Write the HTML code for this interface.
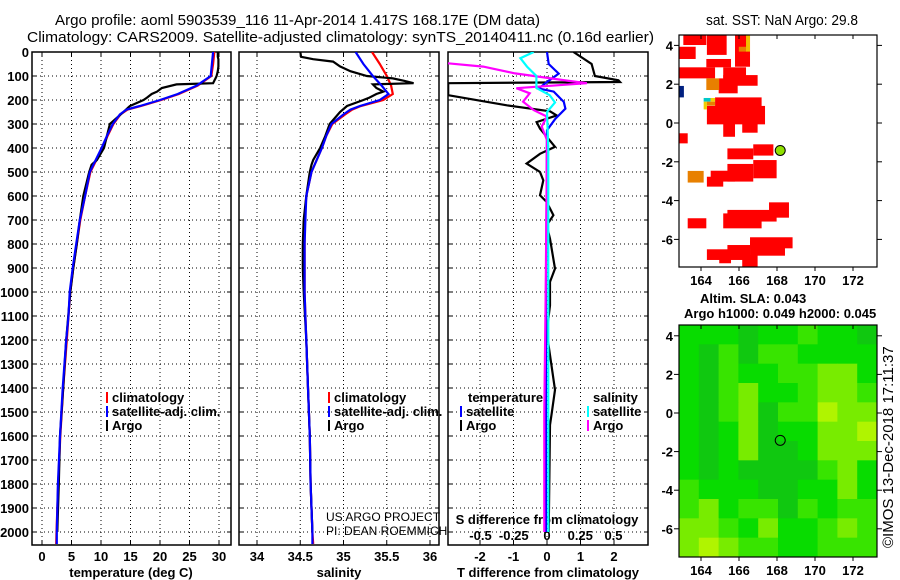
<!DOCTYPE html>
<html><head><meta charset="utf-8"><style>
html,body{margin:0;padding:0;background:#fff;}
svg{display:block;font-family:"Liberation Sans",sans-serif;}
.t{font-size:13px;font-weight:bold;fill:#000;}
.ttl{font-size:15px;fill:#000;}
</style></head><body>
<svg id="chart" width="900" height="580" viewBox="0 0 900 580" xmlns="http://www.w3.org/2000/svg">
<defs>
<clipPath id="c1"><rect x="32" y="52" width="199" height="493"/></clipPath>
<clipPath id="c2"><rect x="239" y="52" width="200" height="493"/></clipPath>
<clipPath id="c3"><rect x="448" y="52" width="200" height="493"/></clipPath>
<clipPath id="cm1"><rect x="679" y="35" width="198" height="232"/></clipPath>
<clipPath id="cm2"><rect x="679" y="325" width="198" height="232"/></clipPath>
</defs>
<text class="ttl" x="55" y="25" textLength="485" lengthAdjust="spacingAndGlyphs">Argo profile: aoml 5903539_116 11-Apr-2014 1.417S 168.17E (DM data)</text>
<text class="ttl" x="27" y="42" textLength="627" lengthAdjust="spacingAndGlyphs">Climatology: CARS2009. Satellite-adjusted climatology: synTS_20140411.nc (0.16d earlier)</text>
<text class="ttl" x="706" y="25" textLength="152" lengthAdjust="spacingAndGlyphs">sat. SST: NaN Argo: 29.8</text>
<text class="t" x="700" y="303">Altim. SLA: 0.043</text>
<text class="t" x="684" y="318">Argo h1000: 0.049 h2000: 0.045</text>
<text class="ttl" transform="translate(893,548) rotate(-90)" font-size="13">©IMOS 13-Dec-2018 17:11:37</text>
<g id="g"></g>
</svg>
<script>
// ---------- data ----------
const depthTicks=[0,100,200,300,400,500,600,700,800,900,1000,1100,1200,1300,1400,1500,1600,1700,1800,1900,2000];
const tempTicks=[0,5,10,15,20,25,30];
const salTicks=[34,34.5,35,35.5,36];
const tdiffTicks=[-2,-1,0,1,2];
const sdiffTicks=[-0.5,-0.25,0,0.25,0.5];
const sdiffLabels=["-0.5","-0.25","0","0.25","0.5"];
const latTicks=[-6,-4,-2,0,2,4];
const lonTicks=[164,166,168,170,172];

const climDepth=[0,50,100,140,175,200,225,240,260,300,350,400,500,600,700,800,900,1000,1100,1200,1400,1600,1800,2000,2050];
const tempClim=[29.2,29.0,28.7,26.4,23.2,20.2,16.8,14.5,13.3,12.1,11.1,10.2,8.2,7.3,6.5,5.9,5.3,4.8,4.5,4.2,3.6,3.1,2.75,2.45,2.4];
const tempSat=[29.0,28.8,28.6,26.2,23.0,20.0,16.6,14.3,13.2,12.0,11.0,10.1,8.1,7.3,6.4,5.8,5.2,4.7,4.5,4.1,3.5,3.05,2.7,2.5,2.5];
const salClim=[35.33,35.42,35.50,35.55,35.57,35.46,35.20,35.10,35.02,34.87,34.80,34.75,34.63,34.57,34.55,34.55,34.55,34.55,34.56,34.57,34.59,34.61,34.62,34.64,34.65];
const salSat=[35.14,35.23,35.34,35.44,35.52,35.42,35.19,35.08,35.00,34.86,34.80,34.75,34.63,34.57,34.56,34.55,34.55,34.55,34.56,34.57,34.59,34.61,34.62,34.64,34.64];

const argoDepth=[0,20,30,40,60,80,100,110,120,130,135,150,165,175,190,200,225,250,300,350,400,450,470,500,600,700,800,900,1000,1200,1400,1600,1800,2000];
const tempArgo=[29.8,29.8,29.9,29.9,29.9,29.8,29.6,29.4,29.2,29.0,22.8,20.3,19.5,18.6,17.8,17.2,14.9,13.8,11.5,11.0,10.5,9.3,8.4,8.0,7.0,6.4,5.9,5.3,4.8,4.1,3.6,3.05,2.85,2.6];
const salArgo=[34.50,34.51,34.65,34.88,34.96,35.08,35.27,35.57,35.70,35.81,35.34,35.38,35.46,35.38,35.30,35.23,35.04,34.96,34.84,34.79,34.73,34.65,34.63,34.61,34.57,34.54,34.53,34.53,34.54,34.57,34.59,34.61,34.62,34.64];

const tdDepth=[0,50,100,118,125,130,180,222,247,264,292,319,395,424,465,500,535,597,625,680,722,778,903,958,1056,1167,1408,1506,1554,2000];
const tdArgo=[0.79,1.33,1.43,2.13,2.18,-2.95,-2.95,-1.2,0.09,0.29,-0.31,-0.21,0.24,-0.21,-0.61,-0.21,-0.11,-0.21,-0.01,0.19,-0.01,0.09,0.24,0.09,0.09,-0.01,0.24,0.14,0.09,0.05];
const tsDepth=[0,50,90,120,152,165,208,236,278,326,1000,2000];
const tdSat=[0,0.05,0.35,0.05,-0.25,0.2,0.5,0.55,0.25,0,-0.03,-0.03];
const smDepth=[44,61,89,119,130,151,172,207,242,269,311,367,1000,1500,2000];
const sdArgo=[-0.8,-0.48,-0.24,0.15,0.30,-0.23,-0.13,-0.18,-0.1,0,-0.04,0,-0.01,-0.02,-0.02];
const scDepth=[0,26,61,100,150,180,210,250,400,1000,2000];
const sdSat=[-0.1,-0.2,-0.15,-0.08,-0.08,0.02,0.06,0,0.01,0.01,0.01];

// SST map blocks: [lon0, lat0, lon1, lat1, colour]
const sstBlocks=[
[162.86,3.93,163.72,3.30,"#f00"],[163.07,4.6,164.28,4.02,"#f00"],[164.31,4.6,165.35,3.51,"#f00"],
[165.79,4.6,166.58,2.90,"#f00"],[164.28,3.30,165.58,2.87,"#f00"],[162.86,2.87,164.74,2.30,"#f00"],
[165.17,2.87,166.37,2.30,"#f00"],[165.17,2.47,166.98,1.92,"#f00"],[164.93,2.30,165.93,1.53,"#f00"],
[164.28,2.30,164.96,1.70,"#e88000"],[162.86,1.91,163.1,1.32,"#002080"],
[164.74,1.32,167.19,0.67,"#f00"],[164.31,0.88,167.37,-0.07,"#f00"],[165.17,0,165.79,-0.71,"#f00"],
[166.17,0,166.98,-0.50,"#f00"],[162.86,-0.53,163.3,-1.05,"#f00"],
[165.39,-1.31,166.75,-1.87,"#f00"],[166.75,-1.10,167.81,-1.68,"#f00"],
[166.75,-1.91,167.98,-2.85,"#f00"],[165.39,-2.11,166.75,-3.02,"#f00"],[164.51,-2.46,165.79,-3.02,"#f00"],[164.31,-2.77,165.17,-3.28,"#f00"],
[163.3,-2.47,164.14,-3.07,"#e88000"],
[167.58,-4.09,168.63,-4.88,"#f00"],[165.39,-4.48,167.98,-5.08,"#f00"],[165.17,-4.66,167.19,-5.43,"#f00"],
[163.3,-4.91,164.28,-5.43,"#f00"],
[166.58,-5.89,168.82,-6.46,"#f00"],[166.58,-6.08,168.42,-6.84,"#f00"],[165.39,-6.29,166.58,-7.06,"#f00"],
[164.31,-6.51,165.52,-7.06,"#f00"],[164.96,-6.72,165.58,-7.23,"#f00"],[166.17,-6.80,166.98,-7.5,"#f00"],
[164.14,1.29,164.5,1.10,"#00c8c8"],[164.14,1.10,164.31,0.70,"#f0d000"],[164.5,1.29,164.74,1.10,"#f0d000"],[164.31,1.10,164.74,0.89,"#e88000"],
[165.99,3.93,166.4,3.68,"#e88000"],[166.37,4.6,166.58,3.68,"#f0c000"]
];
const argoLon=168.17, argoLat=-1.417;
// SLA map levels (rows top->bottom, cols west->east)
const slaLevels=[
[1,1,1,0,1,1,2,1,1,0],
[1,0,2,0,2,2,1,1,1,1],
[1,0,2,1,1,2,2,3,3,1],
[1,0,2,3,1,1,2,3,3,2],
[1,0,2,3,0,2,2,4,3,3],
[1,0,1,3,0,1,1,3,3,4],
[1,0,1,3,0,0,1,3,3,3],
[1,0,1,0,0,0,0,2,3,1],
[2,1,1,1,0,0,1,1,3,1],
[2,3,1,2,2,0,2,1,2,2],
[3,3,2,1,3,1,1,2,3,2],
[3,4,3,2,2,1,1,2,2,2]];
const slaColors=["#10c810","#08dc00","#38e400","#78ec00","#b0f400"];

// ---------- drawing ----------
const NS="http://www.w3.org/2000/svg";
const G=document.getElementById('g');
function el(tag,attrs,parent){const e=document.createElementNS(NS,tag);for(const k in attrs)e.setAttribute(k,attrs[k]);(parent||G).appendChild(e);return e;}
const yD=d=>52+d*0.24;
const xT=v=>42+v*5.9;
const xS=v=>257+(v-34)*86.5;
const xTD=v=>547+v*33.5;
const xSD=v=>547+v*133;
const mLon=v=>701+(v-164)*19;
const mLat1=v=>123-v*19.4;
const mLat2=v=>413-v*19.3;

function panel(x0,x1,name){
  const r=el('rect',{x:x0,y:52,width:x1-x0,height:493,fill:'none',stroke:'#000','stroke-width':1.5});
  
  
  depthTicks.forEach(d=>{
    const l=el('line',{x1:x0,x2:x1,y1:yD(d),y2:yD(d),stroke:'#000','stroke-dasharray':'1,3'});
    
    
    el('line',{x1:x0,x2:x0+4,y1:yD(d),y2:yD(d),stroke:'#000'});
    el('line',{x1:x1-4,x2:x1,y1:yD(d),y2:yD(d),stroke:'#000'});
  });
}
function vgrid(ticks,fx,x0,x1){ticks.forEach(t=>{const x=fx(t);
  const l=el('line',{x1:x,x2:x,y1:52,y2:545,stroke:'#000','stroke-dasharray':'1,3'});
  
  
  el('line',{x1:x,x2:x,y1:545,y2:541,stroke:'#000'});el('line',{x1:x,x2:x,y1:52,y2:56,stroke:'#000'});});}
function line(xs,ds,fx,color,clip,name){
  let p='';xs.forEach((v,i)=>{p+=(i?'L':'M')+fx(v).toFixed(1)+','+yD(ds[i]).toFixed(1);});
  const e=el('path',{d:p,fill:'none',stroke:color,'stroke-width':2.2,'clip-path':'url(#'+clip+')'});
  
  
}
function txt(x,y,s,anchor,cls,name){const t=el('text',{x:x,y:y,'text-anchor':anchor||'start',class:cls||'t'});t.textContent=s;
  
  return t;}

panel(32,231,'temperature-panel');panel(239,439,'salinity-panel');panel(448,648,'difference-panel');
vgrid(tempTicks,xT);vgrid(salTicks,xS);vgrid(tdiffTicks,xTD);
depthTicks.forEach(d=>txt(29,yD(d)+5,String(d),'end','t','depth-tick-label'));
tempTicks.forEach(v=>txt(xT(v),561,String(v),'middle','t','temperature-tick-label'));
salTicks.forEach(v=>txt(xS(v),561,String(v),'middle','t','salinity-tick-label'));
tdiffTicks.forEach(v=>txt(xTD(v),561,String(v),'middle','t','t-diff-tick-label'));
sdiffTicks.forEach((v,i)=>txt(xSD(v),540,sdiffLabels[i],'middle','t','s-diff-tick-label'));
txt(131,577,'temperature (deg C)','middle','t','temperature-axis-title');
txt(339,577,'salinity','middle','t','salinity-axis-title');
txt(548,577,'T difference from climatology','middle','t','t-diff-axis-title');
txt(547,524,'S difference from climatology','middle','t','s-diff-axis-title');

line(tempClim,climDepth,xT,'#f00','c1','temperature-climatology-line');
line(tempArgo,argoDepth,xT,'#000','c1','temperature-argo-line');
line(tempSat,climDepth,xT,'#00f','c1','temperature-satellite-line');
line(salClim,climDepth,xS,'#f00','c2','salinity-climatology-line');
line(salArgo,argoDepth,xS,'#000','c2','salinity-argo-line');
line(salSat,climDepth,xS,'#00f','c2','salinity-satellite-line');
line(tdArgo,tdDepth,xTD,'#000','c3','t-diff-argo-line');
line(tdSat,tsDepth,xTD,'#00f','c3','t-diff-satellite-line');
line(sdArgo,smDepth,xSD,'#f0f','c3','s-diff-argo-line');
line(sdSat,scDepth,xSD,'#0ff','c3','s-diff-satellite-line');

function leg(x,y,color,s,name){const r=el('rect',{x:x,y:y-10,width:2,height:11,fill:color});
  
  txt(x+6,y,s,'start','t',name);}
leg(106,402,'#f00','climatology','legend-climatology');leg(106,416,'#00f','satellite-adj. clim.','legend-satellite');leg(106,430,'#000','Argo','legend-argo');
leg(328,402,'#f00','climatology','legend2-climatology');leg(328,416,'#00f','satellite-adj. clim.','legend2-satellite');leg(328,430,'#000','Argo','legend2-argo');
txt(468,402,'temperature','start','t','legend3-temperature-header');txt(593,402,'salinity','start','t','legend3-salinity-header');
leg(460,416,'#00f','satellite','legend3-t-satellite');leg(460,430,'#000','Argo','legend3-t-argo');
leg(587,416,'#0ff','satellite','legend3-s-satellite');leg(587,430,'#f0f','Argo','legend3-s-argo');
const c1=txt(326,521,'US ARGO PROJECT','start','t','credit-project');c1.setAttribute('style','font-weight:normal;font-size:12px');
const c2=txt(326,535,'PI: DEAN ROEMMICH','start','t','credit-pi');c2.setAttribute('style','font-weight:normal;font-size:12px');

// map1
const m1=el('g',{'clip-path':'url(#cm1)'});


sstBlocks.forEach(b=>{const r=el('rect',{x:mLon(b[0]),y:mLat1(b[1]),width:mLon(b[2])-mLon(b[0]),height:mLat1(b[3])-mLat1(b[1]),fill:b[4]},m1);
  });
const dot=el('circle',{cx:mLon(argoLon),cy:mLat1(argoLat),r:5,fill:'#8fe000',stroke:'#000','stroke-width':1});

// map2
const m2=el('g',{'clip-path':'url(#cm2)'});


const cw=198/10,ch=232/12;
slaLevels.forEach((row,ri)=>row.forEach((v,ci)=>{const r=el('rect',{x:679+ci*cw,y:325+ri*ch,width:cw+0.5,height:ch+0.5,fill:slaColors[v]},m2);
  }));
const c2m=el('circle',{cx:mLon(argoLon),cy:mLat2(argoLat),r:5,fill:'none',stroke:'#000','stroke-width':1});

[[35,267,mLat1,285,'sst'],[325,557,mLat2,575,'sla']].forEach(([y0,y1,fl,ly,nm])=>{
  const fr=el('rect',{x:679,y:y0,width:198,height:y1-y0,fill:'none',stroke:'#000','stroke-width':1.2});
  
  latTicks.forEach(v=>{const y=fl(v);el('line',{x1:877,x2:882,y1:y,y2:y,stroke:'#000'});el('line',{x1:674,x2:679,y1:y,y2:y,stroke:'#000'});
    txt(673,y+5,String(v),'end','t',nm+'-lat-label');});
  lonTicks.forEach(v=>{const x=mLon(v);el('line',{x1:x,x2:x,y1:y0,y2:y0+4,stroke:'#000'});el('line',{x1:x,x2:x,y1:y1,y2:y1+4,stroke:'#000'});
    txt(x,ly,String(v),'middle','t',nm+'-lon-label');});
});
</script>
</body></html>
